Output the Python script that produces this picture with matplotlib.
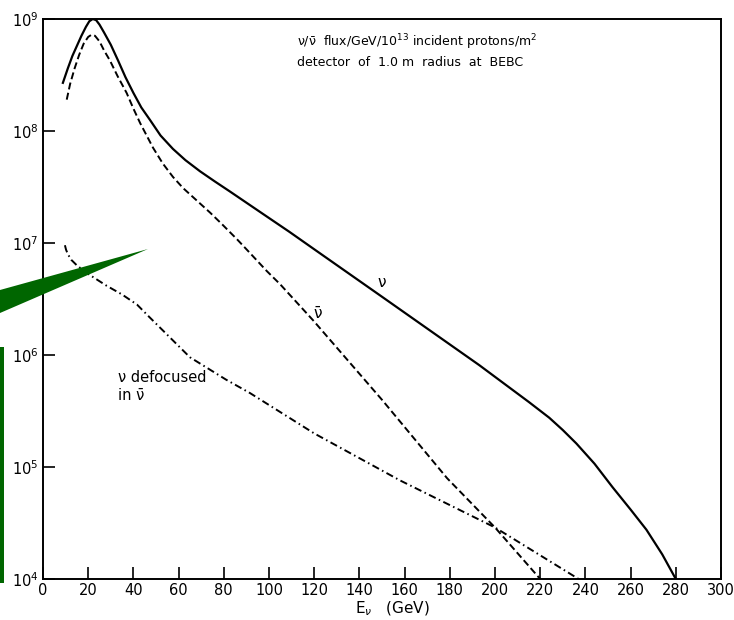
#!/usr/bin/env python3
"""Neutrino / antineutrino flux spectra at BEBC (log scale), redrawn."""
import matplotlib
matplotlib.use("Agg")
import matplotlib.pyplot as plt
from matplotlib.patches import Polygon, Rectangle
from matplotlib.ticker import FixedLocator, NullLocator

# nu flux (solid), log10 values
nu_e = [8.8, 11, 13, 15, 17, 19, 20.5, 22, 23.5, 25, 27, 30, 33.2, 36.5, 40,
        43.5, 47.3, 52, 57.5, 63, 69.5, 76, 82.7, 90, 97.3, 109, 121, 150, 193,
        205, 215, 224, 230, 236, 244, 252, 260, 267, 274, 280]
nu_log = [8.43, 8.56, 8.67, 8.76, 8.85, 8.93, 8.98, 9.0, 8.99, 8.95, 8.88, 8.77,
          8.63, 8.48, 8.34, 8.21, 8.10, 7.96, 7.84, 7.74, 7.64, 7.55, 7.46, 7.36,
          7.26, 7.10, 6.93, 6.52, 5.91, 5.73, 5.58, 5.44, 5.33, 5.21, 5.03, 4.82,
          4.62, 4.44, 4.22, 4.0]

# anti-nu flux (dashed)
nubar_e = [10.5, 12, 14, 16, 18, 20, 21.5, 23, 25, 27, 29.6, 33, 37, 40, 43,
           48.7, 53, 57.5, 62, 68, 74, 79.6, 86, 91.6, 99, 105, 119.5, 150,
           178.8, 200, 220]
nubar_log = [8.28, 8.42, 8.56, 8.68, 8.78, 8.84, 8.86, 8.85, 8.80, 8.72, 8.63,
             8.49, 8.34, 8.20, 8.07, 7.85, 7.71, 7.59, 7.49, 7.38, 7.27, 7.16,
             7.03, 6.91, 6.75, 6.63, 6.31, 5.60, 4.90, 4.46, 4.0]

# nu defocused in anti-nu beam (dash-dot)
defoc_e = [9.7, 10.2, 11, 12.5, 15, 19.5, 28, 35, 41.6, 47, 53, 65, 81, 91.6,
           120, 158, 200, 237]
defoc_log = [6.98, 6.94, 6.90, 6.85, 6.80, 6.73, 6.62, 6.54, 6.45, 6.34, 6.22,
             5.98, 5.78, 5.66, 5.30, 4.88, 4.46, 4.0]

x_ticks = list(range(0, 301, 20))
y_ticks = [1e4, 1e5, 1e6, 1e7, 1e8, 1e9]

fig = plt.figure(figsize=(7.34, 6.2), dpi=100)
ax = fig.add_axes([43 / 734, 1 - 579 / 620, (721 - 43) / 734, (579 - 19) / 620])

ax.plot(nu_e, [10 ** v for v in nu_log], color="black", lw=1.6)
ax.plot(nubar_e, [10 ** v for v in nubar_log], color="black", lw=1.4,
        linestyle=(0, (3.6, 1.8)))
ax.plot(defoc_e, [10 ** v for v in defoc_log], color="black", lw=1.4,
        linestyle=(0, (3.8, 1.8, 0.8, 1.8)))

ax.set_yscale("log")
ax.set_xlim(0, 300)
ax.set_ylim(1e4, 1e9)
ax.xaxis.set_major_locator(FixedLocator(x_ticks))
ax.yaxis.set_major_locator(FixedLocator(y_ticks))
ax.yaxis.set_minor_locator(NullLocator())
ax.set_yticklabels([r"$10^{%d}$" % k for k in range(4, 10)])
ax.tick_params(direction="in", length=8.5, width=1.2, labelsize=10.5, pad=3)
for s in ax.spines.values():
    s.set_linewidth(1.4)

ax.set_xlabel("E$_{\\nu}$   (GeV)", fontsize=11, labelpad=0)
ax.xaxis.set_label_coords(0.515, -0.037, transform=ax.transAxes)
ax.xaxis.label.set_va("top")

ax.text(0.375, 0.959, "ν/ν\u0304  flux/GeV/10$^{13}$ incident protons/m$^2$",
        transform=ax.transAxes, fontsize=9, va="center")
ax.text(0.375, 0.923, "detector  of  1.0 m  radius  at  BEBC",
        transform=ax.transAxes, fontsize=9, va="center")

ax.text(150, 10 ** 6.65, "ν", fontsize=11, ha="center", va="center")
ax.text(121.5, 10 ** 6.37, "ν\u0304", fontsize=11, ha="center", va="center")
ax.text(33, 10 ** 5.80, "ν defocused", fontsize=10.5, ha="left", va="center")
ax.text(33, 10 ** 5.64, "in ν\u0304", fontsize=10.5, ha="left", va="center")

# green overlay marks (figure coordinates)
W, H = 734, 620
tri = [(0, 290), (148, 249), (0, 313)]
fig.patches.append(Polygon([(x / W, 1 - y / H) for x, y in tri], closed=True,
                           transform=fig.transFigure, facecolor="#006600",
                           edgecolor="none", zorder=5))
fig.patches.append(Rectangle((0, 1 - 583 / H), 4 / W, (583 - 347) / H,
                             transform=fig.transFigure, facecolor="#006600",
                             edgecolor="none", zorder=5))

fig.savefig("out.png", dpi=100)
